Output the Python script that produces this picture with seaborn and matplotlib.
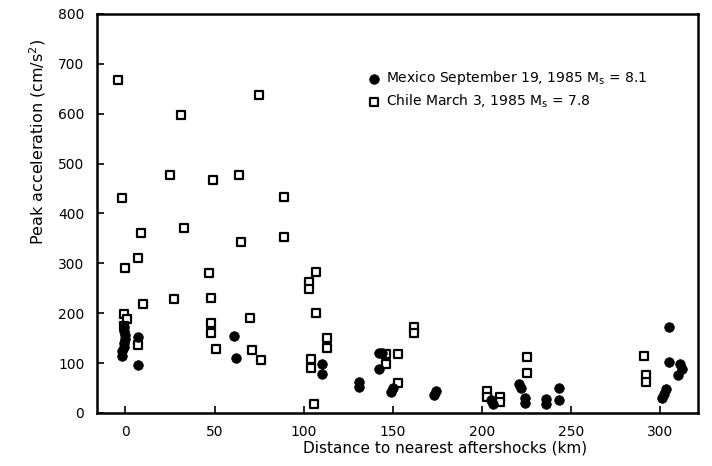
import pandas as pd
import numpy as np
import matplotlib.pyplot as plt
import seaborn as sns

sns.set_style('ticks')
plt.rcParams['font.family'] = ['DejaVu Sans']
plt.rcParams['text.color'] = 'black'
plt.rcParams['axes.labelcolor'] = 'black'
plt.rcParams['xtick.color'] = 'black'
plt.rcParams['ytick.color'] = 'black'
plt.rcParams['axes.edgecolor'] = 'black'

# Mexico September 19, 1985 (filled circles)
mex_dist = [-2, -2, -1, -1, 0, 0, -1, -1, 7, 7, 61, 62, 110, 110, 131, 131,
            142, 144, 142, 150, 149, 174, 173, 205, 206, 221, 222, 224, 224,
            236, 236, 243, 243, 301, 302, 303, 305, 305, 311, 312, 310]
mex_acc = [115, 125, 133, 140, 148, 157, 165, 172, 153, 96, 155, 110, 98, 78, 62, 52,
           120, 120, 88, 50, 42, 44, 35, 25, 18, 58, 50, 30, 20,
           28, 18, 50, 25, 30, 38, 48, 172, 102, 98, 88, 75]

# Chile March 3, 1985 (open squares)
chl_dist = [-4, -2, 31, 75, 25, 49, 64, 89, 9, 33, 65, 89, 7, 0, 47, 10, 27, 48,
            -1, 1, -1, 48, 48, 70, 51, 71, 76, 7, 107, 103, 103, 107, 113, 113,
            104, 104, 106, 146, 153, 146, 153, 162, 162, 203, 203, 210, 210,
            225, 225, 291, 292, 292]
chl_acc = [668, 430, 598, 638, 478, 468, 478, 432, 360, 370, 343, 352, 310, 290, 280, 218, 228, 230,
           198, 188, 175, 180, 160, 190, 128, 126, 106, 136, 282, 262, 248, 200, 150, 130,
           108, 90, 18, 118, 118, 98, 60, 172, 160, 44, 32, 32, 22,
           112, 80, 114, 75, 62]

x_ticks = [0, 50, 100, 150, 200, 250, 300]
y_ticks = [0, 100, 200, 300, 400, 500, 600, 700, 800]

mex = pd.DataFrame({'dist': mex_dist, 'acc': mex_acc})
chl = pd.DataFrame({'dist': chl_dist, 'acc': chl_acc})

fig = plt.figure(figsize=(7.12, 4.66), dpi=100)
ax = fig.add_axes([0.136, 0.114, 0.844, 0.856])

sns.scatterplot(x='dist', y='acc', data=chl, ax=ax, marker='s', s=34,
                facecolor='white', edgecolor='black', linewidth=1.6,
                label=r'Chile March 3, 1985 M$_\mathregular{s}$ = 7.8', zorder=2)
sns.scatterplot(x='dist', y='acc', data=mex, ax=ax, marker='o', s=48,
                color='black', edgecolor='black', linewidth=0.5,
                label=r'Mexico September 19, 1985 M$_\mathregular{s}$ = 8.1', zorder=3)

ax.set_xlim(-16, 321)
ax.set_ylim(0, 800)
ax.set_xticks(x_ticks)
ax.set_yticks(y_ticks)
ax.tick_params(direction='in', length=5, width=1.2, labelsize=10, pad=9,
               colors='black')
for sp in ax.spines.values():
    sp.set_linewidth(1.8)
    sp.set_visible(True)

ax.set_xlabel('Distance to nearest aftershocks (km)', fontsize=11)
ax.set_ylabel(r'Peak acceleration (cm/s$^\mathregular{2}$)', fontsize=11.5)
ax.xaxis.set_label_coords(0.579, -0.07)
ax.yaxis.set_label_coords(-0.082, 0.68)

handles, labels = ax.get_legend_handles_labels()
ax.legend(handles[::-1], labels[::-1], loc='upper left', bbox_to_anchor=(0.44, 0.875),
          frameon=False, fontsize=10, handletextpad=0.4, labelspacing=0.4,
          handlelength=1.0, borderaxespad=0)

plt.savefig('out.png', dpi=100)
